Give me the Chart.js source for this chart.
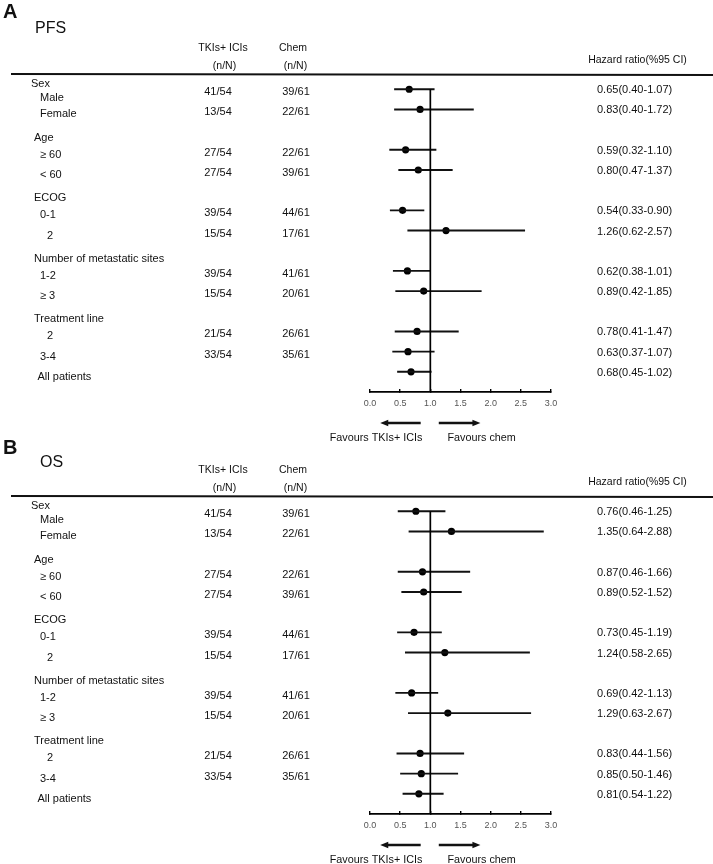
<!DOCTYPE html>
<html>
<head>
<meta charset="utf-8">
<script src="https://cdn.jsdelivr.net/npm/chart.js@4.4.1/dist/chart.umd.min.js"></script>
<style>
  html, body { margin: 0; padding: 0; background: #fff; }
  #wrap { position: relative; width: 713px; height: 864px; overflow: hidden; }
  .panel { position: absolute; left: 0; width: 713px; height: 443px; }
</style>
</head>
<body>
<div id="wrap">
  <div class="panel" style="top:0"><canvas id="pfs"></canvas></div>
  <div class="panel" style="top:422px"><canvas id="os"></canvas></div>
</div>
<script>
// rows of the forest plot
var groupNames = ['Sex', 'Age', 'ECOG', 'Number of metastatic sites', 'Treatment line'];
var subgroups = ['Male', 'Female', '\u2265 60', '< 60', '0-1', '2', '1-2', '\u2265 3', '2', '3-4', 'All patients'];
var subgroupOf = [0, 0, 1, 1, 2, 2, 3, 3, 4, 4, null];
var tkiN = ['41/54', '13/54', '27/54', '27/54', '39/54', '15/54', '39/54', '15/54', '21/54', '33/54', ''];
var chemN = ['39/61', '22/61', '22/61', '39/61', '44/61', '17/61', '41/61', '20/61', '26/61', '35/61', ''];

// PFS hazard ratios
var pfsHr = [0.65, 0.83, 0.59, 0.80, 0.54, 1.26, 0.62, 0.89, 0.78, 0.63, 0.68];
var pfsLow = [0.40, 0.40, 0.32, 0.47, 0.33, 0.62, 0.38, 0.42, 0.41, 0.37, 0.45];
var pfsHigh = [1.07, 1.72, 1.10, 1.37, 0.90, 2.57, 1.01, 1.85, 1.47, 1.07, 1.02];

// OS hazard ratios
var osHr = [0.76, 1.35, 0.87, 0.89, 0.73, 1.24, 0.69, 1.29, 0.83, 0.85, 0.81];
var osLow = [0.46, 0.64, 0.46, 0.52, 0.45, 0.58, 0.42, 0.63, 0.44, 0.50, 0.54];
var osHigh = [1.25, 2.88, 1.66, 1.52, 1.19, 2.65, 1.13, 2.67, 1.56, 1.46, 1.22];

var xTicks = [0, 0.5, 1, 1.5, 2, 2.5, 3];

var SANS = "'Liberation Sans', Arial, sans-serif";

// every subgroup gets a slot, each group heading after the first takes one too
var slots = [], heads = [];
(function () {
  var s = 0, last = null;
  subgroupOf.forEach(function (g, i) {
    if (g !== null && g !== last) {
      if (i === 0) heads.push({ name: groupNames[g], slot: -0.65 });
      else { heads.push({ name: groupNames[g], slot: s }); s++; }
    }
    last = g;
    slots.push(s);
    s++;
  });
})();

function arrow(ctx, x1, x2, y) {
  var dir = x2 > x1 ? 1 : -1;
  ctx.beginPath();
  ctx.moveTo(x1, y);
  ctx.lineTo(x2 - dir * 5, y);
  ctx.lineWidth = 2.4;
  ctx.stroke();
  ctx.beginPath();
  ctx.moveTo(x2, y);
  ctx.lineTo(x2 - dir * 8, y - 3.2);
  ctx.lineTo(x2 - dir * 8, y + 3.2);
  ctx.closePath();
  ctx.fill();
}

function makePanel(id, letter, title, hr, low, high, letterY, titleX, titleY) {
  var textPlugin = {
    id: 'forestText',
    afterDraw: function (chart) {
      var ctx = chart.ctx, x = chart.scales.x, y = chart.scales.y;
      var bottom = chart.chartArea.bottom;
      ctx.save();
      ctx.fillStyle = '#111';
      ctx.strokeStyle = '#111';

      ctx.textBaseline = 'alphabetic';
      ctx.textAlign = 'left';
      ctx.font = 'bold 20px ' + SANS;
      ctx.fillText(letter, 3, letterY);
      ctx.font = '16px ' + SANS;
      ctx.fillText(title, titleX, titleY);

      ctx.textBaseline = 'middle';
      ctx.font = '10.5px ' + SANS;
      ctx.textAlign = 'center';
      ctx.fillText('TKIs+ ICIs', 223, 48);
      ctx.fillText('(n/N)', 224.5, 66);
      ctx.fillText('Chem', 293, 48);
      ctx.fillText('(n/N)', 295.5, 66);
      ctx.fillText('Hazard ratio(%95 CI)', 637.5, 60);

      ctx.beginPath();
      ctx.moveTo(11, 74);
      ctx.lineTo(713, 75);
      ctx.lineWidth = 1.8;
      ctx.stroke();

      ctx.font = '11px ' + SANS;
      ctx.textAlign = 'left';
      heads.forEach(function (h, k) {
        ctx.fillText(h.name, k === 0 ? 31 : 34, y.getPixelForValue(h.slot) + 8);
      });
      subgroups.forEach(function (name, i) {
        var py = y.getPixelForValue(slots[i]);
        ctx.textAlign = 'left';
        ctx.fillText(name, subgroupOf[i] === null ? 37.5 : (name === '2' ? 47 : 40), py + (i === 0 ? 9 : 5));
        ctx.textAlign = 'center';
        ctx.fillText(tkiN[i], 218, py + 3);
        ctx.fillText(chemN[i], 296, py + 3);
        ctx.textAlign = 'left';
        ctx.fillText(hr[i].toFixed(2) + '(' + low[i].toFixed(2) + '-' + high[i].toFixed(2) + ')', 597, py + 1);
      });

      arrow(ctx, x.getPixelForValue(0.84), x.getPixelForValue(0.17), bottom + 31);
      arrow(ctx, x.getPixelForValue(1.14), x.getPixelForValue(1.83), bottom + 31);
      ctx.textAlign = 'center';
      ctx.font = '10.8px ' + SANS;
      ctx.fillText('Favours TKIs+ ICIs', x.getPixelForValue(0.1), bottom + 46);
      ctx.fillText('Favours chem', x.getPixelForValue(1.85), bottom + 46);
      ctx.restore();
    }
  };

  var datasets = [{
    data: [{ x: 1, y: 0 }, { x: 1, y: 15 }],
    showLine: true, borderColor: '#000', borderWidth: 1.7, pointRadius: 0
  }];
  hr.forEach(function (v, i) {
    datasets.push({
      data: [{ x: low[i], y: slots[i] }, { x: high[i], y: slots[i] }],
      showLine: true, borderColor: '#111', borderWidth: 1.9, pointRadius: 0
    });
  });
  datasets.push({
    data: hr.map(function (v, i) { return { x: v, y: slots[i] }; }),
    pointRadius: 3.6, backgroundColor: '#000', borderWidth: 0
  });

  return new Chart(document.getElementById(id), {
    type: 'scatter',
    data: { datasets: datasets },
    options: {
      responsive: true,
      maintainAspectRatio: false,
      animation: false,
      layout: { padding: { left: 370, right: 162, top: 59, bottom: 21 } },
      plugins: { legend: { display: false }, tooltip: { enabled: false } },
      scales: {
        x: {
          type: 'linear', min: 0, max: 3, position: 'bottom',
          afterBuildTicks: function (s) { s.ticks = xTicks.map(function (v) { return { value: v }; }); },
          afterFit: function (s) { s.height = 30; },
          border: { display: true, color: '#000', width: 1.8 },
          grid: { drawOnChartArea: false, drawTicks: true, tickLength: -3, color: '#000', lineWidth: 1.4 },
          ticks: {
            color: '#555', padding: 9, font: { family: SANS, size: 9 },
            callback: function (v) { return Number(v).toFixed(1); }
          }
        },
        y: { type: 'linear', min: -1.5, max: 15, reverse: true, display: false }
      }
    },
    plugins: [textPlugin]
  });
}

makePanel('pfs', 'A', 'PFS', pfsHr, pfsLow, pfsHigh, 18, 35, 33);
makePanel('os', 'B', 'OS', osHr, osLow, osHigh, 32, 40, 45);
</script>
</body>
</html>
